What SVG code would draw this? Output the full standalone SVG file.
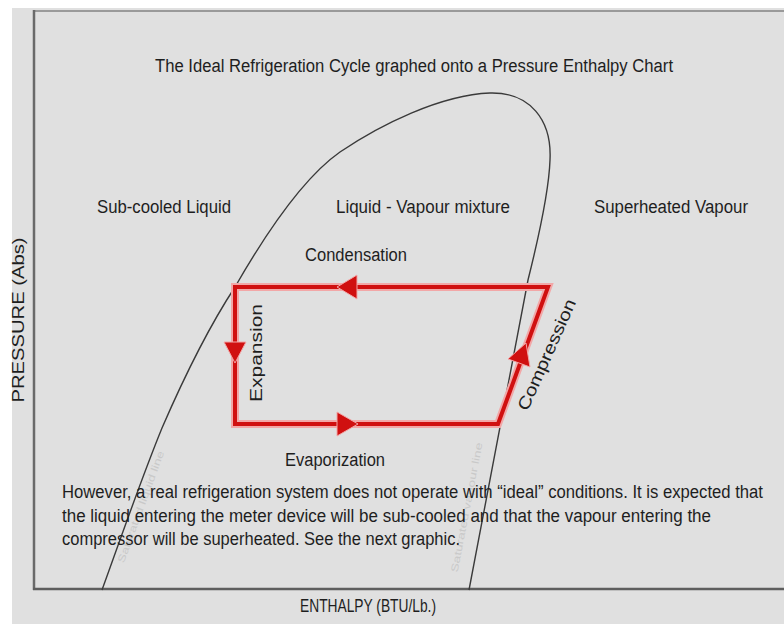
<svg xmlns="http://www.w3.org/2000/svg" width="784" height="624" viewBox="0 0 784 624">
<style>
text{font-family:"Liberation Sans",Arial,sans-serif;fill:#1e1e1e}
.lbl{font-size:18px}
.rot{font-size:17px}
.para{font-size:18px}
.faint{font-size:10px;fill:#c9c9c9}
.cyc{fill:none;stroke-linejoin:miter;stroke-linecap:square}
.halo{stroke:#f2a7a7;stroke-width:8}
.red{stroke:#d01010;stroke-width:4}
.head{fill:#d01010;stroke:#f2a7a7;stroke-width:1}
</style>
<rect x="0" y="0" width="784" height="624" fill="#ffffff"/>
<rect x="12" y="8" width="772" height="616" fill="#e0e0e0"/>
<g id="axes">
<line x1="34" y1="11" x2="784" y2="11" stroke="#9a9a9a" stroke-width="2"/>
<line x1="34" y1="10" x2="34" y2="590" stroke="#6a6a6a" stroke-width="2.5"/>
<line x1="33" y1="589" x2="784" y2="589" stroke="#5e5e5e" stroke-width="2.5"/>
</g>
<g id="dome">
<path d="M102,590 C122,535 140,482 162,428 C185,375 210,325 235,287 C262,240 300,180 340,152 C380,125 440,95 490,93 C530,92 552,120 550,160 C549,190 538,240 528,280 L469,590" fill="none" stroke="#3a3a3a" stroke-width="1.4"/>
<text class="faint" transform="translate(144,508) rotate(-70)" text-anchor="middle" textLength="118" lengthAdjust="spacingAndGlyphs">Saturated liquid line</text>
<text class="faint" transform="translate(470,508) rotate(-79)" text-anchor="middle" textLength="132" lengthAdjust="spacingAndGlyphs">Saturated vapour line</text>
</g>
<g id="title"><text class="lbl" x="414" y="72" text-anchor="middle" textLength="518" lengthAdjust="spacingAndGlyphs">The Ideal Refrigeration Cycle graphed onto a Pressure Enthalpy Chart</text></g>
<g id="subcooled"><text class="lbl" x="164" y="213" text-anchor="middle" textLength="134" lengthAdjust="spacingAndGlyphs">Sub-cooled Liquid</text></g>
<g id="mixture"><text class="lbl" x="423" y="213" text-anchor="middle" textLength="174" lengthAdjust="spacingAndGlyphs">Liquid - Vapour mixture</text></g>
<g id="superheated"><text class="lbl" x="671" y="213" text-anchor="middle" textLength="154" lengthAdjust="spacingAndGlyphs">Superheated Vapour</text></g>
<g id="connectors">
<path class="cyc halo" d="M548,287 L235,287 L235,424 L498,424 Z"/>
<path class="cyc red" d="M548,287 L235,287 L235,424 L498,424 Z"/>
<polygon class="head" points="337,287 357,275 357,299"/>
<polygon class="head" points="235,363 224,342 246,342"/>
<polygon class="head" points="358,424 337,412 337,436"/>
<polygon class="head" points="526,343 530,367 508,359"/>
</g>
<g id="condensation"><text class="lbl" x="356" y="261" text-anchor="middle" textLength="102" lengthAdjust="spacingAndGlyphs">Condensation</text></g>
<g id="expansion"><text class="rot" transform="translate(262,353) rotate(-90)" text-anchor="middle" textLength="98" lengthAdjust="spacingAndGlyphs">Expansion</text></g>
<g id="compression"><text class="rot" transform="translate(552,357) rotate(-66)" text-anchor="middle" textLength="120" lengthAdjust="spacingAndGlyphs">Compression</text></g>
<g id="evaporization"><text class="lbl" x="335" y="466" text-anchor="middle" textLength="100" lengthAdjust="spacingAndGlyphs">Evaporization</text></g>
<g id="note">
<text class="para" x="62" y="498" textLength="701" lengthAdjust="spacingAndGlyphs">However, a real refrigeration system does not operate with “ideal” conditions. It is expected that</text>
<text class="para" x="62" y="522" textLength="649" lengthAdjust="spacingAndGlyphs">the liquid entering the meter device will be sub-cooled and that the vapour entering the</text>
<text class="para" x="62" y="545" textLength="398" lengthAdjust="spacingAndGlyphs">compressor will be superheated. See the next graphic.</text>
</g>
<g id="xlabel"><text class="lbl" x="368" y="612" text-anchor="middle" textLength="136" lengthAdjust="spacingAndGlyphs">ENTHALPY (BTU/Lb.)</text></g>
<g id="ylabel"><text class="rot" transform="translate(24,320) rotate(-90)" text-anchor="middle" textLength="165" lengthAdjust="spacingAndGlyphs">PRESSURE (Abs)</text></g>
</svg>
